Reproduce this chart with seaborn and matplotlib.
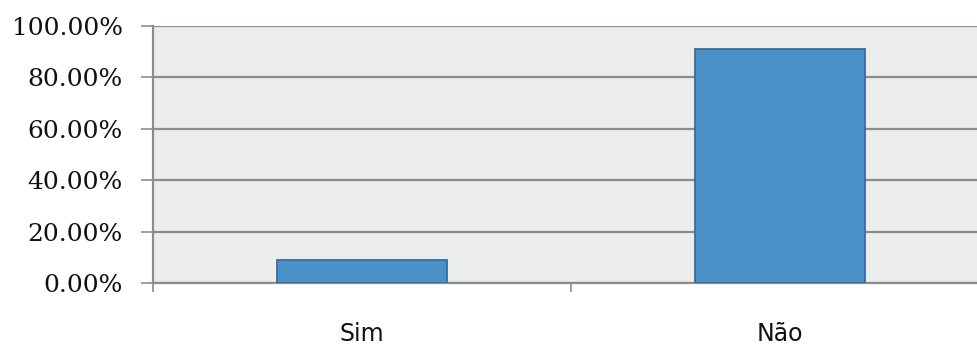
import matplotlib
matplotlib.use("Agg")
import matplotlib.pyplot as plt
import seaborn as sns
import pandas as pd
from matplotlib.ticker import FixedLocator, PercentFormatter

categories = ["Sim", "Não"]
shares = [0.09, 0.91]
y_ticks = [0.0, 0.2, 0.4, 0.6, 0.8, 1.0]

df = pd.DataFrame({"resposta": categories, "percentual": shares})

sns.set_theme(style="white")
plt.rcParams["font.family"] = ["DejaVu Sans"]

fig = plt.figure(figsize=(9.77, 3.46), dpi=100)
ax = fig.add_axes([153 / 977, 63 / 346, 836 / 977, 257 / 346])
ax.set_facecolor("#ebecec")

sns.barplot(data=df, x="resposta", y="percentual", ax=ax,
            color="#4a91c8", saturation=1, width=0.406,
            edgecolor="#3b6d9c", linewidth=1.3, zorder=3)

ax.set_xlim(-0.5, 1.5)
ax.set_ylim(0, 1)
ax.set_xlabel("")
ax.set_ylabel("")

grid_col = "#8c8c8c"
ax.yaxis.set_major_locator(FixedLocator(y_ticks))
ax.yaxis.set_major_formatter(PercentFormatter(1.0, decimals=2))
ax.grid(axis="y", color=grid_col, linewidth=1.6, zorder=1)
ax.set_axisbelow(True)

for s in ["top", "right"]:
    ax.spines[s].set_visible(False)
for s in ["left", "bottom"]:
    ax.spines[s].set_color(grid_col)
    ax.spines[s].set_linewidth(1.6)

ax.tick_params(axis="y", which="major", direction="out", length=8.6, width=1.2,
               color=grid_col, pad=13, labelsize=18, left=True)
for lbl in ax.get_yticklabels():
    lbl.set_family("DejaVu Serif")
    lbl.set_color("#111111")

ax.xaxis.set_minor_locator(FixedLocator([-0.5, 0.5]))
ax.tick_params(axis="x", which="major", length=0, pad=28, labelsize=17,
               labelcolor="#111111")
ax.tick_params(axis="x", which="minor", direction="out", length=6.5, width=1.2,
               color=grid_col, bottom=True)

fig.savefig("out.png", dpi=100)
